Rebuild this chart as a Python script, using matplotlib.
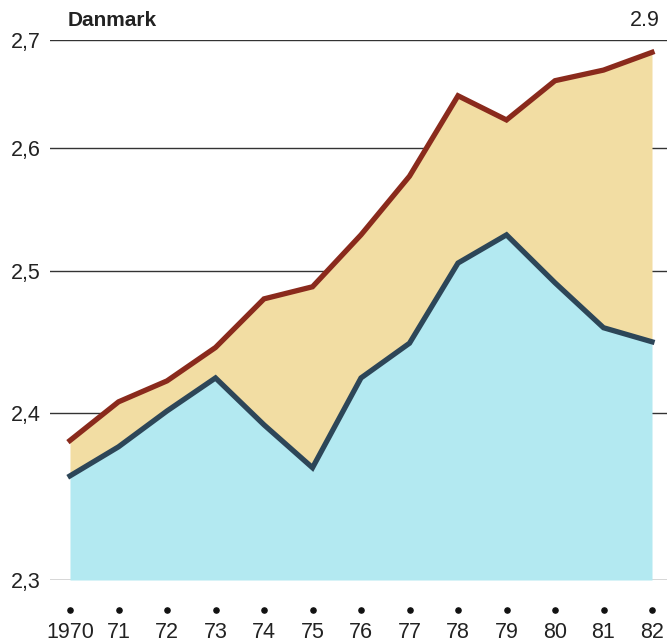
import numpy as np
import matplotlib
matplotlib.use("Agg")
import matplotlib.pyplot as plt
import matplotlib.transforms as mtrans

years = [1970, 1971, 1972, 1973, 1974, 1975, 1976, 1977, 1978, 1979, 1980, 1981, 1982]
year_labels = ["1970", "71", "72", "73", "74", "75", "76", "77", "78", "79", "80", "81", "82"]
upper = [2.382, 2.407, 2.421, 2.444, 2.479, 2.488, 2.528, 2.576, 2.647, 2.625, 2.661, 2.671, 2.688]
lower = [2.360, 2.378, 2.401, 2.423, 2.392, 2.365, 2.423, 2.447, 2.506, 2.528, 2.491, 2.458, 2.448]
yticks = [2.3, 2.4, 2.5, 2.6, 2.7]
ytick_labels = ["2,3", "2,4", "2,5", "2,6", "2,7"]

plt.rcParams['font.family'] = ['Liberation Sans', 'DejaVu Sans']

W, H = 667, 642
fig = plt.figure(figsize=(W / 100, H / 100), dpi=100)
ax = fig.add_axes([50 / W, 62 / H, 617 / W, 540 / H])

off = 1.8
def fwd(v):
    return np.log(np.clip(np.asarray(v, dtype=float) - off, 1e-6, None))
def inv(x):
    return np.exp(x) + off
ax.set_yscale('function', functions=(fwd, inv))

base = 2.3
ax.fill_between(years, base, lower, color='#b3e9f1', lw=0, zorder=2)
ax.fill_between(years, lower, upper, color='#f2dda3', lw=0, zorder=2)
ax.plot(years, upper, color='#8a2a1c', lw=3.8, solid_joinstyle='miter', zorder=3)
ax.plot(years, lower, color='#2d4658', lw=3.8, solid_joinstyle='miter', zorder=3)

for t in yticks:
    ax.axhline(t, color='#333333', lw=1.0, zorder=1)

ax.set_xlim(1970 - 20 / 48.5, 1982 + 15 / 48.5)
ax.set_ylim(2.3, 2.7)
for s in ax.spines.values():
    s.set_visible(False)

ax.set_yticks(yticks)
ax.set_yticklabels(ytick_labels, fontsize=15.5, color='#222222')
ax.tick_params(axis='y', length=0, pad=7)
ax.set_yticks([], minor=True)

ax.set_xticks(years)
ax.set_xticklabels(year_labels, fontsize=15.5, color='#222222')
ax.tick_params(axis='x', length=0, pad=30)

trans = mtrans.blended_transform_factory(ax.transData, ax.transAxes)
ax.scatter(years, [-30 / 540] * len(years), s=14, color='#111111', transform=trans, clip_on=False, zorder=5)

fig.text(68 / W, 1 - 21 / H, "Danmark", fontsize=15, fontweight='bold', color='#222222', va='center', ha='left')
fig.text(660 / W, 1 - 20 / H, "2.9", fontsize=15.5, color='#222222', va='center', ha='right')

fig.savefig("out.png", dpi=100)
